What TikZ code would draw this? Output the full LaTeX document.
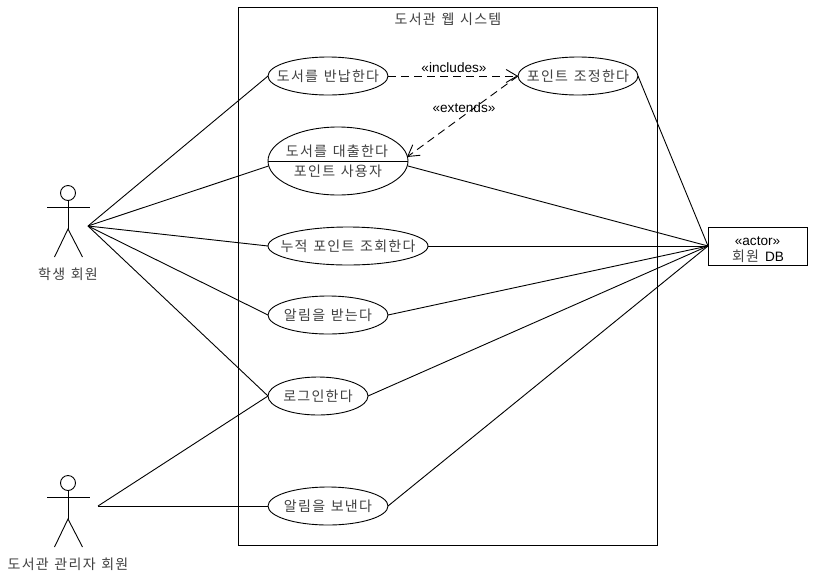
\documentclass[tikz,border=0pt]{standalone}
\usepackage{fontspec}
\setmainfont{Liberation Sans}
\newfontfamily\kr[LetterSpace=9,WordSpace=1.3]{Noto Sans CJK KR}
\usetikzlibrary{arrows.meta,shapes.geometric}
\definecolor{krtext}{HTML}{404040}
\tikzset{
  every path/.style={line width=0.9pt},
  usecase/.style={draw,ellipse,inner sep=0pt,outer sep=0pt,fill=white,minimum height=38pt},
  ktext/.style={font=\kr\fontsize{14}{16}\selectfont,text=krtext,inner sep=0pt,yshift=-0.7pt},
  ltext/.style={font=\fontsize{13.6}{16}\selectfont,text=black,inner sep=0pt,yshift=-0.7pt},
  link/.style={draw,line width=0.9pt},
  deplink/.style={draw,line width=0.9pt,dash pattern=on 8pt off 5pt,-{Straight Barb[length=11pt,width=13pt,line width=0.9pt]}},
}
\begin{document}
\begin{tikzpicture}[x=1pt,y=-1pt]
\useasboundingbox (0,0) rectangle (816,579);
\fill[white] (0,0) rectangle (816,579);
\node[draw,minimum width=419pt,minimum height=538pt,inner sep=0pt,outer sep=0pt] (sys) at (447.5,276) {};
\node[ktext] (systitle) at (448,19) {도서관 웹 시스템};
% actors
\coordinate (s1) at (88,226);
\coordinate (s2) at (98,506);
\foreach \n/\cy in {a/193,m/483}{
  \draw (68,\cy) circle[radius=7.5];
  \draw (68,\cy+7.5) -- (68,\cy+36);
  \draw (47,\cy+14) -- (90,\cy+14);
  \draw (54.5,\cy+64) -- (68,\cy+36) -- (82.5,\cy+64);
}
\node[ktext] (alabel) at (68,274) {학생 회원};
\node[ktext] (mlabel) at (68,564) {도서관 관리자 회원};
% use cases
\node[usecase,minimum width=120pt] (u1) at (328,76) {};
\node[ktext] (u1t) at (328,76) {도서를 반납한다};
\node[usecase,minimum width=120pt] (u2) at (578,76) {};
\node[ktext] (u2t) at (578,76) {포인트 조정한다};
\node[usecase,minimum width=140pt,minimum height=68pt] (u3) at (338,161) {};
\draw (u3.west) -- (u3.east);
\node[ktext] (u3t) at (337,151) {도서를 대출한다};
\node[ktext] (u3b) at (338,171) {포인트 사용자};
\node[usecase,minimum width=160pt] (u4) at (348,246) {};
\node[ktext] (u4t) at (348,246) {누적 포인트 조회한다};
\node[usecase,minimum width=120pt] (u5) at (328,315) {};
\node[ktext] (u5t) at (328,315) {알림을 받는다};
\node[usecase,minimum width=100pt] (u6) at (318,396) {};
\node[ktext] (u6t) at (318,396) {로그인한다};
\node[usecase,minimum width=120pt] (u7) at (328,506) {};
\node[ktext] (u7t) at (328,506) {알림을 보낸다};
% external actor
\node[draw,minimum width=99pt,minimum height=38pt,inner sep=0pt,outer sep=0pt] (db) at (757.5,246) {};
\node[ltext] (dbt) at (757.5,240) {«actor»};
\node[inner sep=0pt,yshift=-0.7pt] (dbb) at (758,256) {{\kr\fontsize{14}{16}\selectfont\color{krtext}회원}\hspace{6pt}\fontsize{13.6}{16}\selectfont DB};
% connector anchors
\coordinate (u3l) at (268.5,166);
\coordinate (u3r) at (408,166);
\coordinate (u3a) at (407,157);
% connectors
\draw[link] (s1) -- (u1.west);
\draw[link] (s1) -- (u3l);
\draw[link] (s1) -- (u4.west);
\draw[link] (s1) -- (u5.west);
\draw[link] (s1) -- (u6.west);
\draw[link] (s2) -- (u6.west);
\draw[link] (s2) -- (u7.west);
\draw[link] (u2.east) -- (db.west);
\draw[link] (u3r) -- (db.west);
\draw[link] (u4.east) -- (db.west);
\draw[link] (u5.east) -- (db.west);
\draw[link] (u6.east) -- (db.west);
\draw[link] (u7.east) -- (db.west);
\draw[deplink] (u1.east) -- (u2.west);
\draw[deplink] (u2.west) -- (u3a);
\node[ltext] (inc) at (454,67) {«includes»};
\node[ltext] (ext) at (464,107) {«extends»};
\end{tikzpicture}
\end{document}
